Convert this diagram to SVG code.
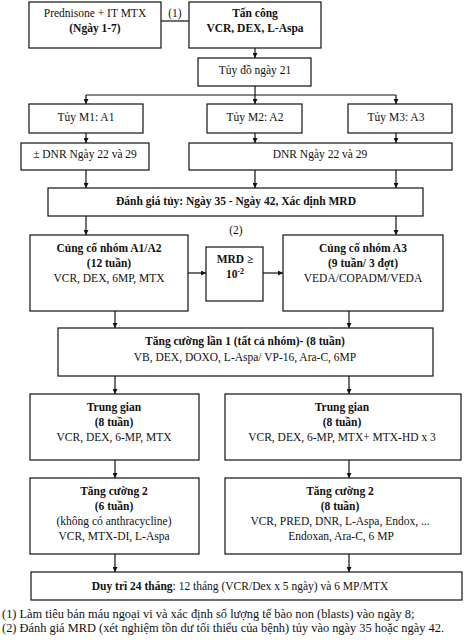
<svg xmlns="http://www.w3.org/2000/svg" width="467" height="640" viewBox="0 0 467 640">
<style>
text{font-family:"Liberation Serif","Times New Roman",serif;font-size:11.5px;fill:#111;text-anchor:middle}
.b{font-weight:bold}
.l{text-anchor:start;font-size:12.4px}
rect{fill:#fff;stroke:#111;stroke-width:1.2}
#connectors line,#connectors polyline{stroke:#111;stroke-width:1.2;fill:none}
</style>
<defs>
<marker id="ah" viewBox="0 0 10 10" refX="10" refY="5" markerWidth="5" markerHeight="5" orient="auto" markerUnits="userSpaceOnUse">
<path d="M0,0 L10,5 L0,10 z" fill="#111"/>
</marker>
</defs>
<rect x="0" y="0" width="467" height="640" style="fill:#fff;stroke:none"/>
<g id="connectors">
<line x1="161" y1="21" x2="189" y2="21"/>
<line x1="255" y1="48" x2="255" y2="58" marker-end="url(#ah)"/>
<line x1="255" y1="86" x2="255" y2="95"/>
<line x1="86" y1="95" x2="396" y2="95"/>
<line x1="86" y1="95" x2="86" y2="104" marker-end="url(#ah)"/>
<line x1="255" y1="95" x2="255" y2="104" marker-end="url(#ah)"/>
<line x1="396" y1="95" x2="396" y2="104" marker-end="url(#ah)"/>
<line x1="86" y1="133" x2="86" y2="143" marker-end="url(#ah)"/>
<line x1="255" y1="133" x2="255" y2="143" marker-end="url(#ah)"/>
<line x1="396" y1="133" x2="396" y2="143" marker-end="url(#ah)"/>
<line x1="86" y1="170" x2="86" y2="188" marker-end="url(#ah)"/>
<line x1="255" y1="170" x2="255" y2="188" marker-end="url(#ah)"/>
<line x1="396" y1="170" x2="396" y2="188" marker-end="url(#ah)"/>
<line x1="86" y1="216" x2="86" y2="235" marker-end="url(#ah)"/>
<line x1="396" y1="216" x2="396" y2="235" marker-end="url(#ah)"/>
<line x1="188" y1="273" x2="206" y2="273" marker-end="url(#ah)"/>
<line x1="263" y1="273" x2="283" y2="273" marker-end="url(#ah)"/>
<line x1="115" y1="311" x2="115" y2="328" marker-end="url(#ah)"/>
<line x1="349" y1="311" x2="349" y2="328" marker-end="url(#ah)"/>
<line x1="115" y1="376" x2="115" y2="394" marker-end="url(#ah)"/>
<line x1="349" y1="376" x2="349" y2="394" marker-end="url(#ah)"/>
<line x1="115" y1="460" x2="115" y2="478" marker-end="url(#ah)"/>
<line x1="349" y1="460" x2="349" y2="478" marker-end="url(#ah)"/>
<line x1="115" y1="554" x2="115" y2="572" marker-end="url(#ah)"/>
<line x1="349" y1="554" x2="349" y2="572" marker-end="url(#ah)"/>
<text x="175" y="17">(1)</text>
<text x="236" y="234">(2)</text>
</g>
<g id="n-prednisone">
<rect x="29" y="2" width="132" height="46"/>
<text x="95" y="17">Prednisone + IT MTX</text>
<text x="95" y="32" class="b">(Ngày 1-7)</text>
</g>
<g id="n-tancong">
<rect x="189" y="2" width="132" height="46"/>
<text x="255" y="17" class="b">Tấn công</text>
<text x="255" y="32" class="b">VCR, DEX, L-Aspa</text>
</g>
<g id="n-tuydo">
<rect x="198" y="58" width="113" height="28"/>
<text x="255" y="74">Tủy đồ ngày 21</text>
</g>
<g id="n-m1">
<rect x="29" y="104" width="114" height="29"/>
<text x="86" y="121">Tủy M1: A1</text>
</g>
<g id="n-m2">
<rect x="207" y="104" width="95" height="29"/>
<text x="255" y="121">Tủy M2: A2</text>
</g>
<g id="n-m3">
<rect x="348" y="104" width="104" height="29"/>
<text x="396" y="121">Tủy M3: A3</text>
</g>
<g id="n-dnr1">
<rect x="21" y="143" width="128" height="27"/>
<text x="85" y="158">± DNR Ngày 22 và 29</text>
</g>
<g id="n-dnr2">
<rect x="189" y="143" width="263" height="27"/>
<text x="320" y="158">DNR Ngày 22 và 29</text>
</g>
<g id="n-danhgia">
<rect x="48" y="188" width="375" height="28"/>
<text x="236" y="205" class="b">Đánh giá tủy: Ngày 35 - Ngày 42, Xác định MRD</text>
</g>
<g id="n-cungco12">
<rect x="30" y="235" width="158" height="76"/>
<text x="109" y="252" class="b">Củng cố nhóm A1/A2</text>
<text x="109" y="267" class="b">(12 tuần)</text>
<text x="109" y="282">VCR, DEX, 6MP, MTX</text>
</g>
<g id="n-mrd">
<rect x="206" y="247" width="57" height="54"/>
<text x="235" y="263" class="b">MRD ≥</text>
<text x="235" y="278" class="b">10<tspan dy="-4" font-size="8">-2</tspan></text>
</g>
<g id="n-cungco3">
<rect x="283" y="235" width="160" height="76"/>
<text x="363" y="252" class="b">Củng cố nhóm A3</text>
<text x="363" y="267" class="b">(9 tuần/ 3 đợt)</text>
<text x="363" y="282">VEDA/COPADM/VEDA</text>
</g>
<g id="n-tangcuong1">
<rect x="58" y="328" width="375" height="48"/>
<text x="245" y="345" class="b">Tăng cường lần 1 (tất cả nhóm)- (8 tuần)</text>
<text x="245" y="361">VB, DEX, DOXO, L-Aspa/ VP-16, Ara-C, 6MP</text>
</g>
<g id="n-trunggian1">
<rect x="30" y="394" width="169" height="66"/>
<text x="114" y="411" class="b">Trung gian</text>
<text x="114" y="426" class="b">(8 tuần)</text>
<text x="114" y="441">VCR, DEX, 6-MP, MTX</text>
</g>
<g id="n-trunggian2">
<rect x="225" y="394" width="236" height="66"/>
<text x="342" y="411" class="b">Trung gian</text>
<text x="342" y="426" class="b">(8 tuần)</text>
<text x="342" y="441">VCR, DEX, 6-MP, MTX+ MTX-HD x 3</text>
</g>
<g id="n-tangcuong2a">
<rect x="30" y="478" width="169" height="76"/>
<text x="114" y="495" class="b">Tăng cường 2</text>
<text x="114" y="510" class="b">(6 tuần)</text>
<text x="114" y="525">(không có anthracycline)</text>
<text x="114" y="540">VCR, MTX-DI, L-Aspa</text>
</g>
<g id="n-tangcuong2b">
<rect x="225" y="478" width="236" height="76"/>
<text x="340" y="495" class="b">Tăng cường 2</text>
<text x="340" y="510" class="b">(8 tuần)</text>
<text x="340" y="525">VCR, PRED, DNR, L-Aspa, Endox, ...</text>
<text x="341" y="540">Endoxan, Ara-C, 6 MP</text>
</g>
<g id="n-duytri">
<rect x="31" y="572" width="431" height="28"/>
<text x="240" y="590"><tspan class="b">Duy trì 24 tháng</tspan>: 12 tháng (VCR/Dex x 5 ngày) và 6 MP/MTX</text>
</g>
<g id="footnotes">
<text x="2" y="618" class="l">(1) Làm tiêu bản máu ngoại vi và xác định số lượng tế bào non (blasts) vào ngày 8;</text>
<text x="2" y="632" class="l">(2) Đánh giá MRD (xét nghiệm tồn dư tối thiểu của bệnh) tủy vào ngày 35 hoặc ngày 42.</text>
</g>
</svg>
